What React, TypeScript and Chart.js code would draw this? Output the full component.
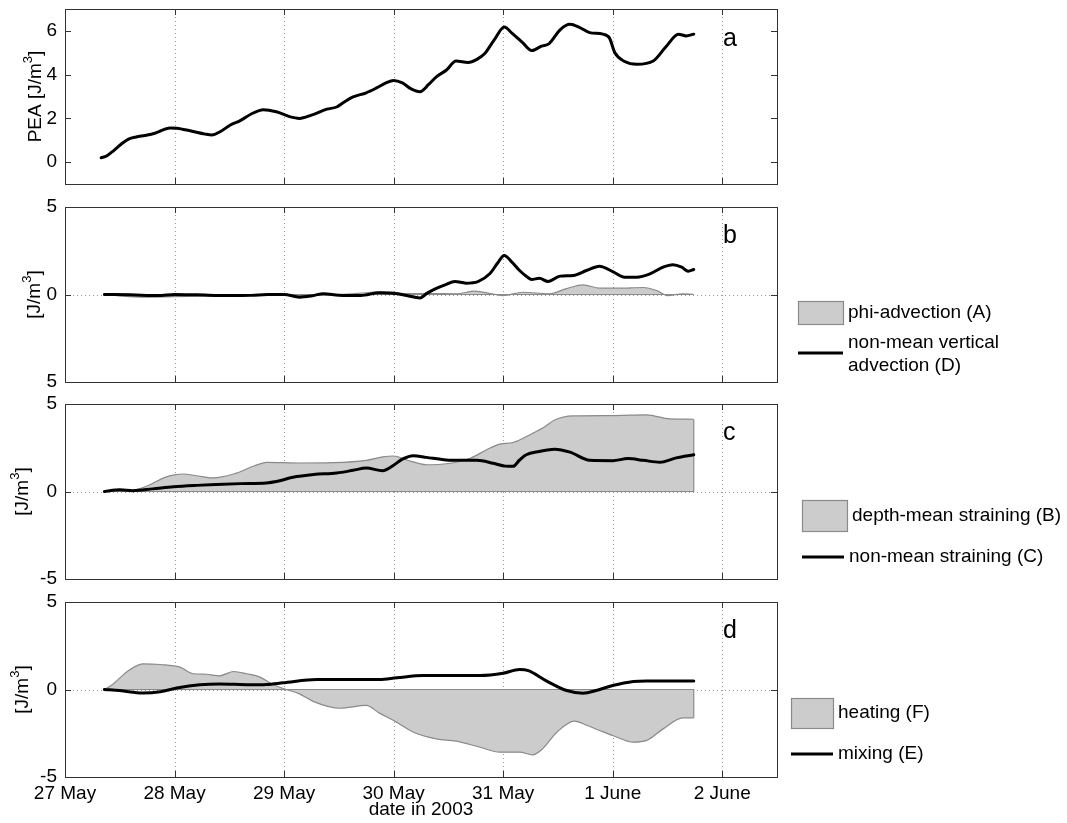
import React, { useEffect, useRef } from "react";
import { Chart, registerables } from "chart.js";
Chart.register(...registerables);

const FONT = "'Liberation Sans', Arial, Helvetica, sans-serif";

// x axis: days since 27 May 2003 00:00
const dayTicks = [0, 1, 2, 3, 4, 5, 6];
const dayLabels = ["27 May", "28 May", "29 May", "30 May", "31 May", "1 June", "2 June"];
const xTitle = "date in 2003";

// panel a: PEA
const peaT = [0.33, 0.38, 0.45, 0.52, 0.58, 0.65, 0.73, 0.82, 0.96, 1.02, 1.15, 1.28, 1.34, 1.42, 1.51, 1.6, 1.7, 1.81, 1.93, 2.05, 2.14, 2.25, 2.39, 2.48, 2.55, 2.63, 2.75, 2.84, 2.93, 3.0, 3.08, 3.16, 3.24, 3.32, 3.39, 3.48, 3.57, 3.68, 3.76, 3.83, 3.92, 4.01, 4.08, 4.18, 4.26, 4.35, 4.42, 4.52, 4.61, 4.7, 4.79, 4.91, 4.97, 5.02, 5.11, 5.22, 5.37, 5.49, 5.6, 5.67, 5.74];
const peaV = [0.2, 0.28, 0.55, 0.85, 1.05, 1.15, 1.22, 1.32, 1.56, 1.55, 1.42, 1.28, 1.24, 1.4, 1.7, 1.9, 2.2, 2.4, 2.3, 2.08, 2.0, 2.15, 2.42, 2.52, 2.75, 2.98, 3.17, 3.38, 3.62, 3.73, 3.62, 3.35, 3.22, 3.55, 3.9, 4.2, 4.62, 4.56, 4.7, 4.95, 5.6, 6.18, 5.9, 5.45, 5.1, 5.3, 5.42, 6.05, 6.3, 6.15, 5.92, 5.85, 5.68, 5.0, 4.6, 4.47, 4.62, 5.3, 5.85, 5.77, 5.85];

// panel b: phi-advection (A) and non-mean vertical advection (D)
const advAT = [0.36, 0.5, 0.7, 1.0, 1.3, 1.6, 1.9, 2.2, 2.5, 2.75, 2.87, 3.0, 3.12, 3.3, 3.57, 3.74, 3.91, 4.0, 4.18, 4.42, 4.58, 4.73, 4.88, 5.06, 5.28, 5.4, 5.5, 5.64, 5.74];
const advAV = [0, -0.08, -0.15, -0.12, -0.1, -0.05, -0.03, -0.05, 0.0, 0.1, 0.15, 0.12, 0.05, 0.05, 0.04, 0.19, 0.02, -0.06, 0.13, 0.04, 0.34, 0.55, 0.36, 0.36, 0.4, 0.23, -0.06, 0.04, 0.0];
const advDT = [0.36, 0.6, 0.85, 1.0, 1.2, 1.5, 1.7, 1.85, 2.0, 2.14, 2.25, 2.36, 2.5, 2.7, 2.87, 3.0, 3.12, 3.24, 3.3, 3.38, 3.47, 3.56, 3.66, 3.77, 3.88, 3.95, 4.01, 4.08, 4.15, 4.22, 4.26, 4.33, 4.41, 4.52, 4.64, 4.76, 4.88, 5.0, 5.11, 5.22, 5.34, 5.46, 5.55, 5.63, 5.69, 5.74];
const advDV = [0, -0.02, -0.06, 0.0, -0.02, -0.06, -0.05, 0.0, 0.0, -0.15, -0.08, 0.05, -0.04, -0.06, 0.1, 0.07, -0.06, -0.2, 0.05, 0.32, 0.55, 0.74, 0.65, 0.74, 1.2, 1.8, 2.23, 1.85, 1.37, 1.0, 0.86, 0.93, 0.74, 1.05, 1.09, 1.37, 1.62, 1.31, 0.99, 0.99, 1.18, 1.56, 1.7, 1.56, 1.33, 1.43];

// panel c: depth-mean straining (B) and non-mean straining (C)
const strBT = [0.36, 0.62, 0.7, 0.78, 0.9, 1.0, 1.08, 1.2, 1.35, 1.54, 1.72, 1.84, 2.14, 2.45, 2.75, 2.9, 3.0, 3.12, 3.3, 3.5, 3.7, 3.85, 3.97, 4.09, 4.27, 4.38, 4.47, 4.64, 5.0, 5.31, 5.52, 5.74];
const strBV = [0, 0.07, 0.2, 0.4, 0.78, 0.95, 1.0, 0.9, 0.78, 1.0, 1.44, 1.67, 1.63, 1.65, 1.78, 1.98, 2.03, 1.8, 1.53, 1.6, 1.9, 2.39, 2.71, 2.8, 3.33, 3.7, 4.09, 4.32, 4.34, 4.38, 4.15, 4.13];
const strCT = [0.36, 0.5, 0.62, 0.8, 0.99, 1.2, 1.38, 1.6, 1.84, 1.93, 2.08, 2.27, 2.48, 2.63, 2.75, 2.9, 3.0, 3.08, 3.18, 3.3, 3.48, 3.6, 3.76, 3.91, 4.02, 4.09, 4.15, 4.21, 4.33, 4.47, 4.61, 4.79, 5.0, 5.14, 5.28, 5.43, 5.58, 5.74];
const strCV = [0, 0.1, 0.05, 0.15, 0.27, 0.35, 0.4, 0.45, 0.49, 0.57, 0.81, 0.97, 1.06, 1.21, 1.34, 1.19, 1.5, 1.85, 2.05, 1.95, 1.8, 1.78, 1.78, 1.61, 1.45, 1.44, 1.8, 2.1, 2.29, 2.42, 2.25, 1.78, 1.76, 1.88, 1.78, 1.67, 1.92, 2.1];

// panel d: heating (F) and mixing (E)
const heatT = [0.36, 0.44, 0.56, 0.71, 0.87, 1.05, 1.17, 1.29, 1.41, 1.54, 1.66, 1.78, 1.9, 2.02, 2.14, 2.27, 2.51, 2.75, 2.87, 3.0, 3.18, 3.39, 3.57, 3.79, 3.97, 4.15, 4.27, 4.36, 4.49, 4.65, 4.77, 4.88, 5.0, 5.19, 5.31, 5.46, 5.64, 5.74];
const heatV = [0, 0.32, 0.99, 1.47, 1.43, 1.28, 0.9, 0.87, 0.78, 1.03, 0.9, 0.71, 0.27, 0.0, -0.25, -0.69, -1.07, -0.91, -1.35, -1.77, -2.44, -2.82, -2.95, -3.3, -3.58, -3.58, -3.73, -3.39, -2.44, -1.81, -2.06, -2.34, -2.63, -3.01, -2.91, -2.25, -1.62, -1.62];
const mixT = [0.36, 0.5, 0.71, 0.87, 1.02, 1.23, 1.41, 1.69, 1.84, 1.99, 2.3, 2.75, 2.87, 3.03, 3.27, 3.79, 4.0, 4.15, 4.23, 4.39, 4.58, 4.73, 4.85, 5.0, 5.19, 5.31, 5.74];
const mixV = [0, -0.06, -0.2, -0.13, 0.08, 0.27, 0.32, 0.27, 0.29, 0.38, 0.57, 0.57, 0.57, 0.67, 0.8, 0.8, 0.93, 1.14, 1.08, 0.51, -0.06, -0.21, -0.06, 0.23, 0.46, 0.49, 0.49];

// y ticks
const peaTicks = [0, 2, 4, 6];
const peaTickLabels = ["0", "2", "4", "6"];
const bTicks = [-5, 0, 5];
const bTickLabels = ["5", "0", "5"];
const cdTicks = [-5, 0, 5];
const cdTickLabels = ["-5", "0", "5"];

type Series = { t: number[]; v: number[]; kind: "line" | "area"; label: string };
type LegendItem = { kind: "line" | "area"; lines: string[]; x: number; y: number; w: number; h: number; textY: number[] };
type Panel = {
  top: number; height: number; padTop: number; padBottom: number; xH: number;
  ymin: number; ymax: number; yTicks: number[]; yLabels: string[];
  title: [string, string, string]; titleX: number;
  letter: string; letterY: number; zeroLine: boolean;
  series: Series[]; legend: LegendItem[]; showX: boolean;
};

const panels: Panel[] = [
  {
    top: 0, height: 200, padTop: 9, padBottom: 16, xH: 0, ymin: -1, ymax: 7,
    yTicks: peaTicks, yLabels: peaTickLabels, title: ["PEA [J/m", "3", "]"], titleX: 36,
    letter: "a", letterY: 46, zeroLine: false, showX: false,
    series: [{ t: peaT, v: peaV, kind: "line", label: "PEA" }],
    legend: [],
  },
  {
    top: 190, height: 205, padTop: 17, padBottom: 13, xH: 0, ymin: -5, ymax: 5,
    yTicks: bTicks, yLabels: bTickLabels, title: ["[J/m", "3", "]"], titleX: 35,
    letter: "b", letterY: 243, zeroLine: true, showX: false,
    series: [
      { t: advAT, v: advAV, kind: "area", label: "phi-advection (A)" },
      { t: advDT, v: advDV, kind: "line", label: "non-mean vertical advection (D)" },
    ],
    legend: [
      { kind: "area", lines: ["phi-advection (A)"], x: 798, y: 301, w: 45, h: 23, textY: [313] },
      { kind: "line", lines: ["non-mean vertical", "advection (D)"], x: 798, y: 353, w: 45, h: 0, textY: [343, 366] },
    ],
  },
  {
    top: 388, height: 205, padTop: 16, padBottom: 14, xH: 0, ymin: -5, ymax: 5,
    yTicks: cdTicks, yLabels: cdTickLabels, title: ["[J/m", "3", "]"], titleX: 23,
    letter: "c", letterY: 440, zeroLine: true, showX: false,
    series: [
      { t: strBT, v: strBV, kind: "area", label: "depth-mean straining (B)" },
      { t: strCT, v: strCV, kind: "line", label: "non-mean straining (C)" },
    ],
    legend: [
      { kind: "area", lines: ["depth-mean straining (B)"], x: 802, y: 500, w: 45, h: 31, textY: [516] },
      { kind: "line", lines: ["non-mean straining (C)"], x: 802, y: 557, w: 42, h: 0, textY: [557] },
    ],
  },
  {
    top: 586, height: 237, padTop: 16, padBottom: 0, xH: 46, ymin: -5, ymax: 5,
    yTicks: cdTicks, yLabels: cdTickLabels, title: ["[J/m", "3", "]"], titleX: 23,
    letter: "d", letterY: 638, zeroLine: true, showX: true,
    series: [
      { t: heatT, v: heatV, kind: "area", label: "heating (F)" },
      { t: mixT, v: mixV, kind: "line", label: "mixing (E)" },
    ],
    legend: [
      { kind: "area", lines: ["heating (F)"], x: 791, y: 698, w: 42, h: 30, textY: [713] },
      { kind: "line", lines: ["mixing (E)"], x: 791, y: 754, w: 42, h: 0, textY: [754] },
    ],
  },
];

const AREA_FILL = "#cccccc";
const AREA_EDGE = "#8a8a8a";

function makeDecor(p: Panel) {
  return {
    id: "decor" + p.letter,
    beforeDatasetsDraw(chart: any) {
      const ctx = chart.ctx;
      const a = chart.chartArea;
      const xs = chart.scales.x;
      const ys = chart.scales.y;
      ctx.save();
      ctx.strokeStyle = "#9a9a9a";
      ctx.lineWidth = 1;
      ctx.setLineDash([1, 3]);
      dayTicks.forEach((d) => {
        if (d === 0) return;
        const px = Math.round(xs.getPixelForValue(d)) + 0.5;
        ctx.beginPath();
        ctx.moveTo(px, a.top);
        ctx.lineTo(px, a.bottom);
        ctx.stroke();
      });
      if (p.zeroLine) {
        const py = Math.round(ys.getPixelForValue(0)) + 0.5;
        ctx.beginPath();
        ctx.moveTo(a.left, py);
        ctx.lineTo(a.right, py);
        ctx.stroke();
      }
      ctx.restore();
    },
    afterDraw(chart: any) {
      const ctx = chart.ctx;
      const a = chart.chartArea;
      const xs = chart.scales.x;
      const ys = chart.scales.y;
      ctx.save();
      // frame
      ctx.strokeStyle = "#333333";
      ctx.lineWidth = 1;
      ctx.setLineDash([]);
      ctx.strokeRect(Math.round(a.left) + 0.5, Math.round(a.top) + 0.5, Math.round(a.right - a.left), Math.round(a.bottom - a.top));
      // inward ticks
      const tl = 6;
      ctx.beginPath();
      dayTicks.forEach((d) => {
        const px = Math.round(xs.getPixelForValue(d)) + 0.5;
        ctx.moveTo(px, a.bottom);
        ctx.lineTo(px, a.bottom - tl);
        ctx.moveTo(px, a.top);
        ctx.lineTo(px, a.top + tl);
      });
      p.yTicks.forEach((v) => {
        const py = Math.round(ys.getPixelForValue(v)) + 0.5;
        ctx.moveTo(a.left, py);
        ctx.lineTo(a.left + tl, py);
        ctx.moveTo(a.right, py);
        ctx.lineTo(a.right - tl, py);
      });
      ctx.stroke();
      // panel letter
      ctx.fillStyle = "#000";
      ctx.font = `25px ${FONT}`;
      ctx.textBaseline = "alphabetic";
      ctx.textAlign = "left";
      ctx.fillText(p.letter, 723, p.letterY - p.top);
      // y title with superscript
      const cy = (a.top + a.bottom) / 2;
      ctx.translate(p.titleX, cy);
      ctx.rotate(-Math.PI / 2);
      ctx.textBaseline = "middle";
      ctx.font = `19px ${FONT}`;
      const w1 = ctx.measureText(p.title[0]).width;
      const w3 = ctx.measureText(p.title[2]).width;
      ctx.font = `13px ${FONT}`;
      const w2 = ctx.measureText(p.title[1]).width;
      const x0 = -(w1 + w2 + w3) / 2;
      ctx.font = `19px ${FONT}`;
      ctx.fillText(p.title[0], x0, 0);
      ctx.fillText(p.title[2], x0 + w1 + w2, 0);
      ctx.font = `13px ${FONT}`;
      ctx.fillText(p.title[1], x0 + w1, -8);
      ctx.restore();
      // legend
      ctx.save();
      p.legend.forEach((it) => {
        const oy = p.top;
        if (it.kind === "area") {
          ctx.fillStyle = AREA_FILL;
          ctx.fillRect(it.x, it.y - oy, it.w, it.h);
          ctx.strokeStyle = AREA_EDGE;
          ctx.lineWidth = 1.2;
          ctx.strokeRect(it.x + 0.5, it.y - oy + 0.5, it.w, it.h);
        } else {
          ctx.strokeStyle = "#000";
          ctx.lineWidth = 3;
          ctx.beginPath();
          ctx.moveTo(it.x, it.y - oy);
          ctx.lineTo(it.x + it.w, it.y - oy);
          ctx.stroke();
        }
        ctx.fillStyle = "#000";
        ctx.font = `19px ${FONT}`;
        ctx.textBaseline = "middle";
        ctx.textAlign = "left";
        it.lines.forEach((ln, i) => {
          ctx.fillText(ln, it.x + it.w + 5, it.textY[i] - oy);
        });
      });
      ctx.restore();
    },
  };
}

function makeConfig(p: Panel): any {
  const datasets: any[] = [];
  p.series.forEach((s) => {
    const pts = s.t.map((x, i) => ({ x, y: s.v[i] }));
    if (s.kind === "area") {
      datasets.push({
        label: s.label,
        data: pts,
        borderColor: AREA_EDGE,
        borderWidth: 1.2,
        backgroundColor: AREA_FILL,
        fill: "origin",
        pointRadius: 0,
        cubicInterpolationMode: "monotone",
        order: 2,
      });
      const n = s.t.length;
      datasets.push({
        label: s.label + " edge",
        data: [
          { x: s.t[n - 1], y: s.v[n - 1] },
          { x: s.t[n - 1], y: 0 },
          { x: s.t[0], y: 0 },
        ],
        borderColor: AREA_EDGE,
        borderWidth: 1.2,
        fill: false,
        pointRadius: 0,
        tension: 0,
        order: 1,
      });
    } else {
      datasets.push({
        label: s.label,
        data: pts,
        borderColor: "#000",
        borderWidth: 3,
        fill: false,
        pointRadius: 0,
        cubicInterpolationMode: "monotone",
        borderCapStyle: "round",
        borderJoinStyle: "round",
        order: 0,
      });
    }
  });
  return {
    type: "line",
    data: { datasets },
    options: {
      animation: false,
      responsive: false,
      devicePixelRatio: 1,
      events: [],
      layout: { padding: { left: 0, right: 290, top: p.padTop, bottom: p.padBottom } },
      plugins: { legend: { display: false }, tooltip: { enabled: false } },
      scales: {
        x: {
          type: "linear",
          min: 0,
          max: 6.5,
          afterBuildTicks: (s: any) => {
            s.ticks = dayTicks.map((v) => ({ value: v }));
          },
          ticks: {
            display: p.showX,
            autoSkip: false,
            maxRotation: 0,
            padding: 5,
            color: "#000",
            font: { family: FONT, size: 19 },
            callback: (v: number) => dayLabels[dayTicks.indexOf(v)] ?? "",
          },
          grid: { display: false, drawTicks: false },
          border: { display: false },
          title: {
            display: p.showX,
            text: xTitle,
            color: "#000",
            font: { family: FONT, size: 19 },
            padding: { top: 0, bottom: 2 },
          },
          afterFit: (s: any) => {
            s.height = p.xH;
            s.paddingLeft = 0;
            s.paddingRight = 0;
          },
        },
        y: {
          type: "linear",
          min: p.ymin,
          max: p.ymax,
          afterBuildTicks: (s: any) => {
            s.ticks = p.yTicks.map((v) => ({ value: v }));
          },
          ticks: {
            autoSkip: false,
            padding: 8,
            color: "#000",
            font: { family: FONT, size: 19 },
            callback: (v: number) => p.yLabels[p.yTicks.indexOf(v)] ?? "",
          },
          grid: { display: false, drawTicks: false },
          border: { display: false },
          afterFit: (s: any) => {
            s.width = 65;
            s.paddingTop = 0;
            s.paddingBottom = 0;
          },
        },
      },
    },
    plugins: [makeDecor(p)],
  };
}

function PanelChart({ p }: { p: Panel }) {
  const ref = useRef<HTMLCanvasElement | null>(null);
  useEffect(() => {
    if (!ref.current) return;
    const chart = new Chart(ref.current, makeConfig(p));
    return () => chart.destroy();
  }, [p]);
  return (
    <canvas
      ref={ref}
      width={1067}
      height={p.height}
      style={{ position: "absolute", left: 0, top: p.top, width: 1067, height: p.height, display: "block" }}
    />
  );
}

export default function App() {
  return (
    <div style={{ position: "absolute", left: 0, top: 0, width: 1067, height: 823, background: "#fff", overflow: "hidden" }}>
      {panels.map((p) => (
        <PanelChart key={p.letter} p={p} />
      ))}
    </div>
  );
}
